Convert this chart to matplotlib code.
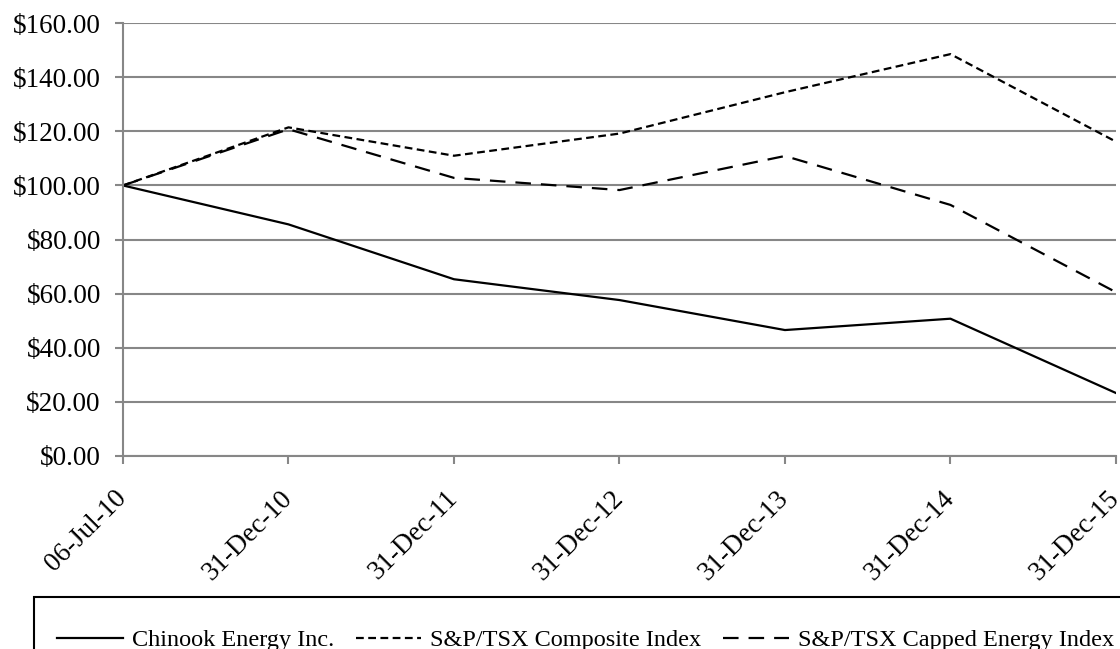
# cumulative return chart: Chinook Energy vs the two TSX indices
# values, $100 invested on 06-Jul-10

import matplotlib.pyplot as plt
from matplotlib.patches import Rectangle

plt.rcParams['font.family'] = ['Liberation Serif', 'DejaVu Serif']

dates = ['06-Jul-10', '31-Dec-10', '31-Dec-11', '31-Dec-12',
         '31-Dec-13', '31-Dec-14', '31-Dec-15']
chinook = [100.0, 85.6, 65.3, 57.6, 46.5, 50.7, 23.2]
composite = [100.0, 121.5, 111.0, 119.2, 134.5, 148.6, 116.2]
energy = [100.0, 120.8, 102.8, 98.3, 110.9, 92.8, 60.5]

fs_tick = 19.5
fs_leg = 17.5
grey = '#878787'

fig = plt.figure(figsize=(11.2, 6.49), dpi=100)
ax = fig.add_axes([0.1098, 0.2978, 0.8866, 0.6663])

x = range(len(dates))
ax.plot(x, chinook, color='black', lw=1.6, label='Chinook Energy Inc.')
ax.plot(x, composite, color='black', lw=1.6, linestyle=(0, (3.5, 2)),
        label='S&P/TSX Composite Index')
ax.plot(x, energy, color='black', lw=1.6, linestyle=(0, (7, 4.5)),
        label='S&P/TSX Capped Energy Index')

ax.set_xlim(0, 6)
ax.set_ylim(0, 160)
ax.set_yticks(range(0, 161, 20))
ax.set_yticklabels([f'${v:.2f}' for v in range(0, 161, 20)], fontsize=fs_tick)
ax.set_xticks(list(x))
ax.set_xticklabels(dates, fontsize=fs_tick, rotation=45, ha='right',
                   va='center', rotation_mode='anchor')

ax.grid(axis='y', color=grey, lw=1.5)
ax.set_axisbelow(True)
for s in ['top', 'right']:
    ax.spines[s].set_visible(False)
for s in ['left', 'bottom']:
    ax.spines[s].set_color(grey)
    ax.spines[s].set_linewidth(1.5)
ax.tick_params(axis='both', color=grey, width=1.5, length=6)
ax.tick_params(axis='y', pad=10)
ax.tick_params(axis='x', pad=22)

# legend box runs off the edge of the picture in the original
box = Rectangle((34 / 1120, -0.2), 1.0, 0.2 + 52 / 649, transform=fig.transFigure,
                fill=False, edgecolor='black', lw=1.5, clip_on=False)
fig.add_artist(box)

fig.legend(loc='center left', bbox_to_anchor=(57 / 1120, 9 / 649),
           ncol=3, frameon=False, fontsize=fs_leg, borderpad=0, borderaxespad=0,
           handlelength=2.7, handletextpad=0.37, columnspacing=0.9)

plt.savefig('out.png', dpi=100)
